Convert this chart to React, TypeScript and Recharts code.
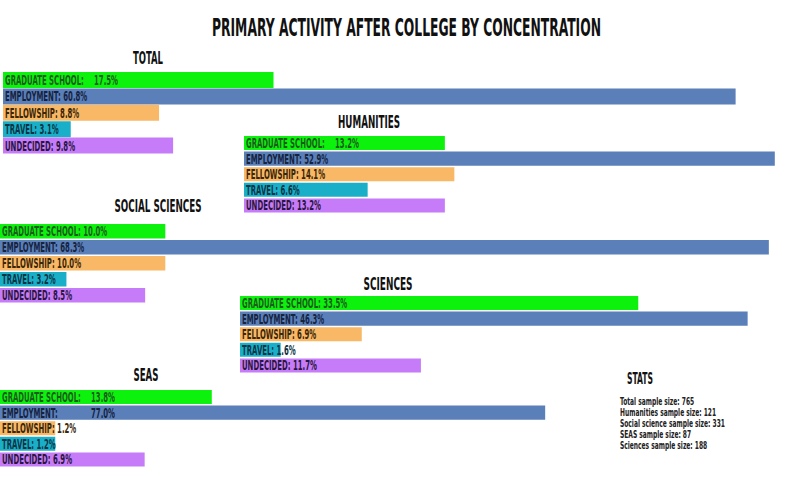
import React from 'react';
import { BarChart, Bar, XAxis, YAxis, Cell, LabelList } from 'recharts';

// ---- data ----
const categories = ['GRADUATE SCHOOL', 'EMPLOYMENT', 'FELLOWSHIP', 'TRAVEL', 'UNDECIDED'];
const totalValues = [17.5, 60.8, 8.8, 3.1, 9.8];
const humanitiesValues = [13.2, 52.9, 14.1, 6.6, 13.2];
const socialSciencesValues = [10.0, 68.3, 10.0, 3.2, 8.5];
const sciencesValues = [33.5, 46.3, 6.9, 1.6, 11.7];
const seasValues = [13.8, 77.0, 1.2, 1.2, 6.9];
const groupTitles = ['TOTAL', 'HUMANITIES', 'SOCIAL SCIENCES', 'SCIENCES', 'SEAS'];
const statsLines = [
  'Total sample size: 765',
  'Humanities sample size: 121',
  'Social science sample size: 331',
  'SEAS sample size: 87',
  'Sciences sample size: 188',
];
const mainTitle = 'PRIMARY ACTIVITY AFTER COLLEGE BY CONCENTRATION';

// ---- styles ----
const barColors = ['#0cf20c', '#5a7fb9', '#f8b866', '#1aafc8', '#c67cf9'];
const textColors = ['#1d5a1d', '#16233f', '#3a2608', '#0b3344', '#2a1640'];
const FONT = "'Liberation Sans Narrow', 'DejaVu Sans Condensed', 'Arial Narrow', sans-serif";

// layout per group: x, y, height, display exponent & px-per-unit, title pos, labels whose value sits in a column
const groups = [
  { title: groupTitles[0], values: totalValues, x: 3, y: 72, h: 82, p: 0.8, k: 27.4, tx: 148, ty: 64, tw: 30, spaced: [0] },
  { title: groupTitles[1], values: humanitiesValues, x: 244, y: 135, h: 78, p: 0.7, k: 33, tx: 369, ty: 128, tw: 62, spaced: [0] },
  { title: groupTitles[2], values: socialSciencesValues, x: 0, y: 223, h: 80, p: 0.8, k: 26.2, tx: 158, ty: 212, tw: 87, spaced: [] as number[] },
  { title: groupTitles[3], values: sciencesValues, x: 240, y: 295, h: 78, p: 0.75, k: 28.6, tx: 388, ty: 290, tw: 49, spaced: [] as number[] },
  { title: groupTitles[4], values: seasValues, x: 0, y: 389, h: 78, p: 0.55, k: 50, tx: 146, ty: 381, tw: 25, spaced: [0, 1] },
];

const SX = 0.55;

function Group({ g }: { g: (typeof groups)[number] }) {
  const data = categories.map((name, i) => ({ name, value: g.values[i] }));
  const w = 800 - g.x;
  const p = g.p;
  const renderLabel = (props: any) => {
    const { x, y, height, index, value } = props;
    const base = Number(y) + Number(height) / 2 + 5;
    const valTxt = `${Number(value).toFixed(1)}%`;
    const common = {
      fontFamily: FONT,
      fontWeight: 'bold' as const,
      fontSize: 14,
      fill: textColors[index],
    };
    if (g.spaced.includes(index)) {
      return (
        <g>
          <text x={0} y={0} transform={`translate(${Number(x) + 2},${base}) scale(${SX},1)`} {...common}>
            {`${categories[index]}:`}
          </text>
          <text x={0} y={0} transform={`translate(${Number(x) + 91},${base}) scale(${SX},1)`} {...common}>
            {valTxt}
          </text>
        </g>
      );
    }
    return (
      <text x={0} y={0} transform={`translate(${Number(x) + 2},${base}) scale(${SX},1)`} {...common}>
        {`${categories[index]}: ${valTxt}`}
      </text>
    );
  };
  return (
    <div style={{ position: 'absolute', left: g.x, top: g.y }}>
      <BarChart
        width={w}
        height={g.h}
        data={data}
        layout="vertical"
        margin={{ top: 0, right: 0, bottom: 0, left: 0 }}
        barCategoryGap={0}
      >
        <XAxis type="number" hide domain={[0, w / g.k]} allowDataOverflow />
        <YAxis type="category" dataKey="name" hide />
        <Bar
          dataKey={(d: any) => Math.pow(d.value, p)}
          barSize={16}
          isAnimationActive={false}
        >
          {data.map((_, i) => (
            <Cell key={i} fill={barColors[i]} />
          ))}
          <LabelList dataKey="value" content={renderLabel} />
        </Bar>
      </BarChart>
    </div>
  );
}

export default function App() {
  return (
    <div style={{ position: 'absolute', left: 0, top: 0, width: 800, height: 477, background: '#fff', overflow: 'hidden' }}>
      {groups.map((g, i) => (
        <Group key={i} g={g} />
      ))}
      <svg width={800} height={477} style={{ position: 'absolute', left: 0, top: 0, pointerEvents: 'none' }}>
        <text
          x={212}
          y={36}
          fontFamily={FONT}
          fontWeight="bold"
          fontSize={25}
          fill="#111"
          textLength={389}
          lengthAdjust="spacingAndGlyphs"
        >
          {mainTitle}
        </text>
        {groups.map((g, i) => (
          <text
            key={i}
            x={g.tx - g.tw / 2}
            y={g.ty}
            fontFamily={FONT}
            fontWeight="bold"
            fontSize={17}
            fill="#111"
            textLength={g.tw}
            lengthAdjust="spacingAndGlyphs"
          >
            {g.title}
          </text>
        ))}
        <text
          x={627}
          y={384}
          fontFamily={FONT}
          fontWeight="bold"
          fontSize={16}
          fill="#111"
          textLength={26}
          lengthAdjust="spacingAndGlyphs"
        >
          STATS
        </text>
        {statsLines.map((s, i) => (
          <text
            key={i}
            x={0}
            y={0}
            transform={`translate(620,${405 + i * 11}) scale(0.66,1)`}
            fontFamily={FONT}
            fontWeight="bold"
            fontSize={10}
            fill="#222"
          >
            {s}
          </text>
        ))}
      </svg>
    </div>
  );
}
